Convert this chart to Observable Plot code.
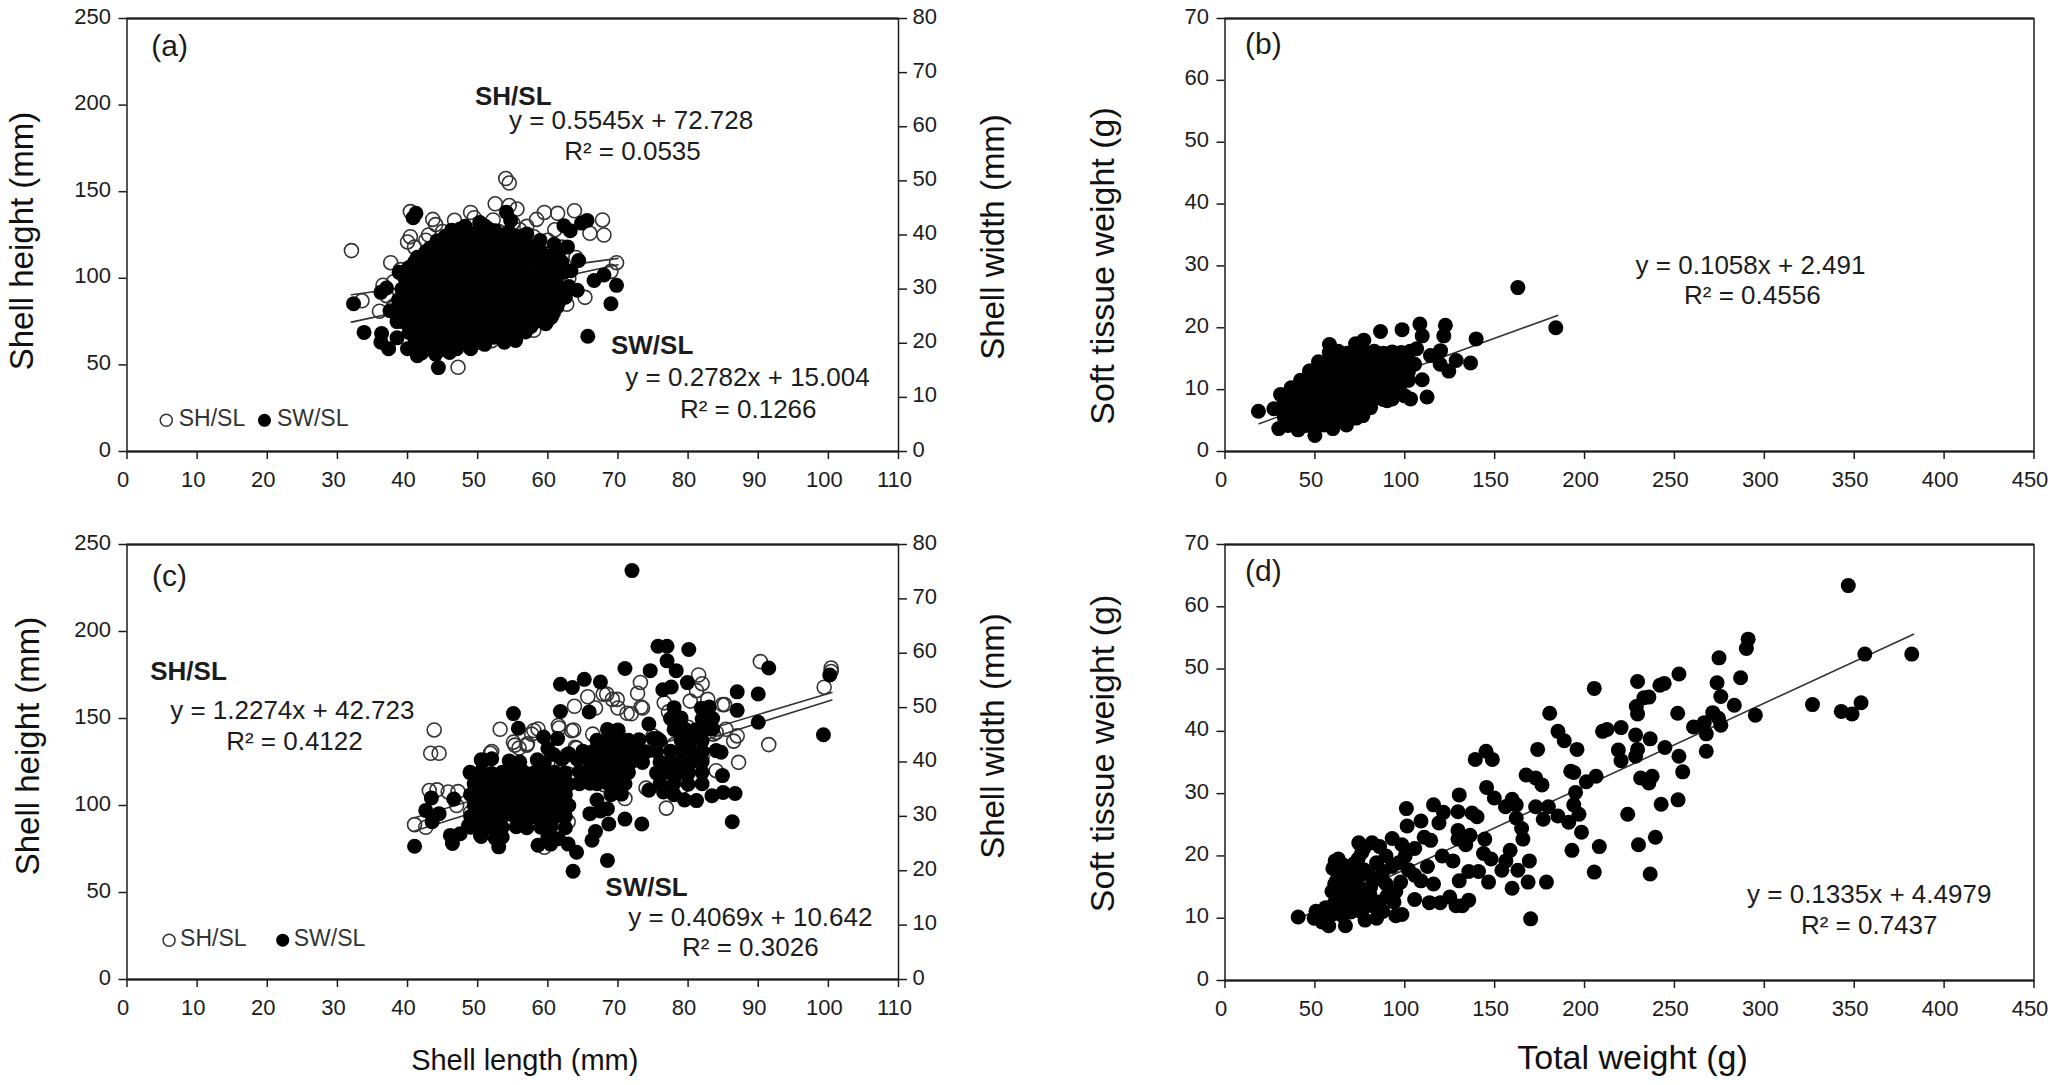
<!DOCTYPE html>
<html><head><meta charset="utf-8">
<script src="https://cdn.jsdelivr.net/npm/d3@7"></script>
<script src="https://cdn.jsdelivr.net/npm/@observablehq/plot@0.6"></script>
<style>
html,body{margin:0;padding:0;background:#fff}
#root{position:relative;width:2053px;height:1085px;overflow:hidden}
#root svg{position:absolute;background:transparent;overflow:visible}
</style></head><body><div id="root"></div>
<script>
// --- Axis ticks
const lengthTicks=[0,10,20,30,40,50,60,70,80,90,100,110];
const heightTicks=[0,50,100,150,200,250];
const widthTicks=[0,10,20,30,40,50,60,70,80];
const weightTicks=[0,50,100,150,200,250,300,350,400,450];
const tissueTicks=[0,10,20,30,40,50,60,70];

// --- Panel (a): shell length vs height (open) / width (filled)
const aSH=[[32,116],[54,157.6],[54.5,155],[52.5,143],[54.5,142],[55.6,140],[40.4,138.5],[43.6,134],[44,131],[46.7,133.5],[49,138],[49.5,135],[52.2,133.7],[59.5,138],[61.4,137.5],[63.8,139],[67.8,133.7],[58.4,134],[66,126],[68,125],[69.8,109],[69,104],[47.2,48.6],[37.6,109],[36.5,96],[33.5,87],[36,81],[40,121],[40.4,124],[42.6,122],[45.5,121],[65.3,89],[62.7,85],[50,63],
[44,118],[48,128],[51,130],[53,127],[56,128],[58,124],[60,122],[62,118],[64,112],[42,112],[39,105],[38,98],[37,90],[38,84],[40,78],[42,72],[45,68],[48,66],[52,64],[55,66],[58,70],[60,76],[62,90],[63,100],[50,110],[46,100],[54,95],[48,85],[56,108],[44,90],[41,118],[43,125],[47,124],[45,127],[50,126],[55,132],[57,130],[61,128]];
const aSW=[[32.3,27.3],[33.8,22],[36.2,20.2],[37.3,19],[36.3,21.8],[41.2,44],[40.8,43.2],[44.4,15.5],[65.7,21.3],[69,27.3],[69.8,30.7],[66.6,31.6],[68,32.6],[65.6,42.7],[64.8,42.2],[62.3,41.7],[63.2,40.8],[60.9,38.3],[62.8,37.8],[61.5,36.5],[62,35],[64.4,35.3],[63.3,33.4],[62.3,33.1],[64.2,29.8],[63,30.5],[62.5,28.5],[61.3,26.7],[60.5,24.8],[59.7,23.6],[57.1,23],[55.4,20.5],[53.8,20.2],[51.4,21.1],[46.6,19.3],[45.6,18.7],[41.4,17.7],[38.5,21],[40,19],[38.5,24],[37.5,26],[36.2,29.4],[37,30.2],[38.8,33.1],[41.4,35.9],[44.2,38.9],[47.5,41.1],[50.9,41.7],[54.1,44.2],[54.7,42.7],[57,40.2],[58.9,39],
[48.2,41.6],[50.3,42.3],[51.6,41.1],
[45.4,39.8],[47.3,40.2],[49.2,39.6],[51.2,40],[53.3,39.5],[55.5,39.8],
[43.2,37.6],[45.1,38],[47.2,37.7],[49.3,38.2],[51.4,37.8],[53.4,38],[55.6,37.5],[57.8,37.9],
[41.8,35.9],[43.6,36.2],[45.6,35.7],[47.6,36.1],[49.7,35.8],[51.8,36.3],[53.9,35.7],[56,36],[58,35.8],[59.8,36.1],
[40.2,34],[42.3,33.8],[44.3,34.3],[46.4,33.9],[48.4,34.2],[50.5,33.7],[52.6,34.1],[54.7,33.9],[56.8,34.2],[58.9,33.8],[60.2,34],
[39.6,32.1],[41.6,31.8],[43.7,32.2],[45.8,31.9],[47.9,32.3],[50,31.8],[52.1,32.2],[54.2,31.9],[56.3,32.1],[58.4,31.7],[60.4,32.2],[61.2,31.6],
[39.2,30],[41.1,29.7],[43.1,30.2],[45.2,29.9],[47.3,30.3],[49.4,29.8],[51.5,30.1],[53.6,29.7],[55.7,30.2],[57.8,29.9],[59.9,30.1],[61.8,29.8],
[38.7,28],[40.7,27.8],[42.7,28.2],[44.8,27.9],[46.9,28.3],[49,27.8],[51.1,28.1],[53.2,27.7],[55.3,28.2],[57.4,27.9],[59.5,28.1],[61.6,27.7],
[38.8,26],[40.8,25.8],[42.9,26.2],[45,25.9],[47.1,26.2],[49.2,25.7],[51.3,26.1],[53.4,25.8],[55.5,26.2],[57.6,25.9],[59.7,26.1],[60.8,25.6],
[39.3,24],[41.3,23.8],[43.4,24.2],[45.5,23.9],[47.6,24.2],[49.7,23.7],[51.8,24.1],[53.9,23.8],[56,24.2],[58.1,23.9],[59.6,24.2],
[40.2,22],[42.2,21.8],[44.2,22.2],[46.3,21.9],[48.4,22.2],[50.5,21.7],[52.6,22.1],[54.7,21.8],[56.8,22.1],
[41,20],[43,19.8],[45,20.2],[47,19.9],[49,20.2],[51,19.8],[42,18.2],[44,18],[46,18.3],[47,19],
[46.3,40.9],[48.4,40.7],[50.2,41],[52.5,40.8],[54.4,40.6],
[44.2,38.9],[46.2,38.8],[48.3,39],[50.3,38.8],[52.4,38.9],[54.5,38.7],[56.6,38.8],
[42.6,36.9],[44.6,37],[46.5,36.8],[48.6,37],[50.6,36.9],[52.7,37],[54.8,36.8],[56.9,36.9],[59,37],
[41,35],[43,35.1],[45,34.9],[47,35.1],[49,34.9],[51,35],[53,35.1],[55,34.9],[57,35],[59,34.9],[60.6,35.1],
[40.6,33],[42.8,32.9],[44.9,33.1],[47,33],[49,33.1],[51.1,32.9],[53.2,33],[55.3,33.1],[57.4,32.9],[59.5,33],[61,33.1],
[40.2,31],[42.3,30.9],[44.4,31.1],[46.5,30.9],[48.6,31],[50.7,31.1],[52.8,30.9],[54.9,31],[57,31.1],[59.1,30.9],[61.3,30.9],
[39.8,29],[41.9,28.9],[44,29.1],[46.1,28.9],[48.2,29],[50.3,29.1],[52.4,28.9],[54.5,29],[56.6,29.1],[58.7,28.9],[60.8,29],
[39.5,27],[41.6,26.9],[43.7,27.1],[45.8,26.9],[47.9,27],[50,27.1],[52.1,26.9],[54.2,27],[56.3,27.1],[58.4,26.9],[60.5,27],
[39.9,25],[42,24.9],[44.1,25.1],[46.2,24.9],[48.3,25],[50.4,25.1],[52.5,24.9],[54.6,25],[56.7,25.1],[58.8,24.9],
[41,23],[43.1,22.9],[45.2,23.1],[47.3,22.9],[49.4,23],[51.5,23.1],[53.6,22.9],[55.7,23],[57.6,23.1],
[41.8,21],[43.9,20.9],[46,21.1],[48.1,20.9],[50.2,21],[52.3,21.1],[54.4,20.9],[43,19],[45,19],[49,19]];
const aSHLine=[[32,90.5],[70,111.5]];
const aSWLine=[[32,23.9],[70,34.5]];

// --- Panel (b): total weight vs soft tissue weight
const bST=[[18.6,6.5],[162.9,26.5],[184,20],[139.7,18.2],[136.6,14.3],[128.6,14.7],[124.5,13],[122.6,20.4],[121.7,18.7],[119.9,16.3],[114.3,15.5],[119.7,14.1],[112.4,8.8],[109.7,11.6],[108.4,20.6],[109.7,18.7],[106.6,16.6],[105.5,14.1],[98.5,19.7],[86.5,19.4],[77.2,18],[72.6,17.4],[58.1,17.3],[47.2,13],[36.8,10.3],[30.9,9.2],[27.2,6.9],[29.9,3.7],[40.7,3.5],[50,2.6],[60,3.7],[67.6,4.3],[76.7,5.8],[103.2,8.5],[90.2,8.2],[100,9],
[58,16],[63,16.2],[68,15.9],[73,16.1],[78,16],[83,16.2],[88,15.9],[93,16.1],[98,16],[103,16.2],
[52,14.5],[57,14.6],[62,14.4],[67,14.5],[72,14.6],[77,14.4],[82,14.5],[87,14.6],[92,14.4],[97,14.5],[102,14.6],
[47,13],[52,13.1],[57,12.9],[62,13],[67,13.1],[72,12.9],[77,13],[82,13.1],[87,12.9],[92,13],[97,13.1],[102,12.9],
[42,11.5],[47,11.6],[52,11.4],[57,11.5],[62,11.6],[67,11.4],[72,11.5],[77,11.6],[82,11.4],[87,11.5],[92,11.6],[97,11.4],[102,11.5],
[37,10],[42,10.1],[47,9.9],[52,10],[57,10.1],[62,9.9],[67,10],[72,10.1],[77,9.9],[82,10],[87,10.1],[92,9.9],[97,10],
[33,8.5],[38,8.6],[43,8.4],[48,8.5],[53,8.6],[58,8.4],[63,8.5],[68,8.6],[73,8.4],[78,8.5],[83,8.6],[88,8.4],[93,8.5],
[31,7],[36,7.1],[41,6.9],[46,7],[51,7.1],[56,6.9],[61,7],[66,7.1],[71,6.9],[76,7],[81,7.1],
[33,5.5],[38,5.6],[43,5.4],[48,5.5],[53,5.6],[58,5.4],[63,5.5],[68,5.6],[73,5.4],
[35,4.2],[45,4.2],[50,4.1],[55,4.3],[60,4.2]];
const bLine=[[19,4.5],[185,22]];

// --- Panel (c): shell length vs height (open) / width (filled)
const cSH=[[41,89],[43.8,143.4],[43.3,130],[44.5,130],[43.1,108.6],[44.2,109],[45.8,107.8],[47.2,108],[42.6,87.5],[53.2,143.8],[58.6,144],[57.7,141],[61.6,144.5],[63.7,143.4],[55.3,134.7],[55.9,133],[57,134.7],[51.8,130],[64.1,133],[62.7,129],[63.8,157],[65.7,162.5],[66.8,156],[68.4,164],[69.9,161],[70,156],[71.9,152.7],[72.8,164.5],[73.2,170.7],[73.5,156],[76.6,159],[77.2,153.8],[80.3,160],[81.5,175],[82,170],[81.2,166],[82.8,161],[84.9,158],[85.4,143.8],[83.6,141],[87,140],[86.5,137],[91.5,135],[90.3,182.7],[87.2,124.8],[76.9,98.5],[99.4,168],[100.4,179],[100.4,177],[71,104],[59.5,76],[60,85.5],[62.9,90.6],[52,131],[66.4,141],[79.2,111],[80,118.6],
[55.1,136.4],[57.1,135.5],[58,143.1],[63.4,143],[61.5,146],[63.9,133.5],[67.9,164],[69.2,161],[71.3,153],[73.3,156.6],[85.2,158],[84,142],
[50,118],[52,105],[55,120],[58,112],[60,125],[63,118],[66,128],[69,135],[70,142],[72,130],[75,140],[78,135],[80,145],[82,128],[84,120],[78,120],[74,110],[68,112],[60,98],[56,95],[53,88],[49,96],[47,100]];
const cSW=[[41,24.5],[72,75.2],[63.6,19.9],[68.5,21.9],[64.1,23.4],[62.9,24.9],[60.4,24.9],[58.6,24.7],[53,24.4],[50.4,26.5],[46.4,25],[46.1,26.5],[47.5,26.8],[43.4,33.4],[42.6,31.1],[44.5,30.5],[43.5,29],[46.6,33.2],[48.9,38.1],[50.9,40.3],[55.1,48.9],[55.8,46.2],[61.8,49.3],[65.9,49.2],[59.4,44.6],[61.4,44.3],[61.8,54.3],[63.5,53.7],[65.2,55.2],[67.5,54.7],[71,57.2],[74.6,56.8],[75.7,61.3],[77,61.3],[80.1,60.7],[77,58.6],[78.3,56.8],[76.4,53.3],[77.6,53.8],[79.9,54.6],[81.9,49.9],[87,49.5],[87,52.9],[90,52.5],[91.5,57.3],[90,47.3],[99.3,45],[100.2,56],[84.7,41.8],[84.9,37.5],[86.7,34.2],[85,34.4],[83.4,33.8],[86.3,29],[81.2,32.9],[79.5,33],[74.4,34.8],[73.4,28.6],[71,29.5],[68.7,28.6],[68.5,31.4],[66,30.5],[66.3,25.6],[66.8,27.2],[48.7,28.3],
[50.5,40.4],[52,40.6],[54.5,40.2],[56,40],[58.5,40.4],[59.5,39.8],[60,42.5],[60.8,41.4],[62,40.5],[63,41.5],[64.2,40.5],[65,42],
[49,38],[50.5,38.2],[52,37.9],[53.5,38.1],[55,37.8],[56.5,38.2],[58,38],[59.5,37.9],[61,38.1],[62.5,38],[64.5,38.2],
[49.5,36],[51,36.1],[52.5,35.9],[54,36.2],[55.5,36],[57,35.8],[58.5,36.1],[60,36],[61.5,36.2],[63,35.9],[64.5,36],[66,36.1],
[49,34],[50.5,34.1],[52,33.9],[53.5,34],[55,34.2],[56.5,33.9],[58,34],[59.5,34.1],[61,33.9],[62.5,34],
[49.5,32],[51,32.2],[52.5,31.9],[54,32],[55.5,32.1],[57,31.9],[58.5,32],[60,32.2],[61.5,31.9],[63,32],
[49,30],[50.5,30.1],[52,29.9],[53.5,30],[55,30.2],[56.5,29.9],[58,30],[59.5,30.1],[61,29.9],[62.5,30],
[49,28],[50.5,28.2],[52,27.9],[53.5,28],[55.5,28.1],[57,27.9],[59,28],[60.5,28.2],[62.5,27.9],
[50.5,26.3],[52.5,26],[53.5,26.2],[60,26.1],[61.5,25.9],
[68.5,46],[70,45.9],
[67,44],[68.5,44.2],[70,43.9],[71.5,44],[73,44.1],[75,44.3],[76,43.9],[74.4,47],[75.6,44.3],
[66.5,42],[68,42.1],[69.5,41.9],[71,42],[72.5,42.1],[74,41.9],[75.5,42],
[66,40],[67.5,40.1],[69,39.9],[70.5,40],[72,40.1],[73.5,39.9],
[65.5,38],[67,38.1],[68.5,37.9],[70,38],[71.5,38.1],
[67,36],[68.5,36.1],[70,35.9],[71,36],[69,34],[70.5,34.1],[67,33],[67.5,31],
[78,50],[83,50.1],[77.5,48],[79,48.1],[82,47.9],[83.5,48],
[78,46],[79.5,46.1],[81,45.9],[82.5,46],[83.5,46.1],[79,44],[80.5,44.1],[82,43.9],
[77.5,42],[79,42.1],[80.5,41.9],[82,42],[84,42.1],[76,40],[77.5,40.1],[79,39.9],[80.5,40],[82,40.1],
[75.5,38],[77,38.1],[78.5,37.9],[80,38],[82,38.1],[76,36],[78,36.1],[80,35.9],[82,36],[76.5,34.5],[78,34]];
const cSHLine=[[41,93],[100.5,165]];
const cSWLine=[[41,27.3],[100.5,51.4]];

// --- Panel (d): total weight vs soft tissue weight
const dST=[[40.7,10.2],[50.6,11.1],[49.6,10],[54,9.4],[57.7,8.8],[67,8.8],[61.3,19.2],[61,15.5],[346.7,63.4],[291,54.8],[290,53.3],[355.9,52.4],[382,52.4],[274.8,51.8],[286.8,48.6],[252.5,49.2],[273.7,47.8],[244.3,47.7],[241.9,47.4],[229.5,48],[205.4,46.9],[235.8,45.5],[233,45.4],[275.8,45.6],[283.3,44.2],[326.8,44.3],[353.8,44.6],[342.8,43.2],[348.8,42.8],[295,42.6],[251.8,42.9],[271.3,43],[274.5,42.1],[275.8,41],[228.8,44],[229.5,42.8],[180.6,42.9],[260.6,40.7],[266.6,41.4],[267.7,39.6],[220.3,40.6],[210,40],[212.5,40.3],[185.2,40],[188.7,38.5],[228.4,39.4],[236.5,38.8],[244.7,37.4],[252.5,36],[218.8,37],[229.5,37.1],[228.4,36],[220.3,35.3],[195.8,37.1],[173.9,37.1],[145.2,36.8],[139.2,35.5],[148.7,35.5],[267.7,36.8],[254.6,33.5],[167.5,33],[172.8,32.5],[176.3,31.4],[192.3,33.6],[194,33.4],[206.4,32.8],[201,31.9],[231.2,32.5],[237.6,32.8],[235.8,31.7],[195,30.2],[145.5,31],[130.3,29.8],[149.8,29.3],[252,29],[242.6,28.3],[159.7,29.1],[156,27.9],[162,28.2],[172.8,27.9],[179.9,27.9],[194,28.2],[100.9,27.6],[116,28.2],[129.6,27.1],[137.4,26.9],[177,25.9],[185.2,26.4],[196.9,26.7],[224,26.7],[140.2,26.3],[121.5,27],[162,26.1],[109,25.6],[101.3,24.8],[119,25.3],[165,24.4],[191.2,25.4],[129.6,24.1],[198.3,23.8],[165.7,22.7],[239.4,23],[144.5,22.7],[136.3,23.3],[93,22.8],[74.4,22.1],[81.8,22.1],[114.4,22.5],[129.6,22.7],[133.9,21.8],[208.2,21.5],[193,20.9],[230,21.8],[158.6,20.9],[143.8,20.4],[148,19.5],[120.8,20],[98.4,21.8],[86,21.5],[77.2,21.2],[169.3,19.2],[156.2,19.2],[154,17.7],[162.9,17.7],[205.4,17.4],[236.5,17.1],[126.8,19.2],[135.6,17.5],[141,17.5],[178.8,15.8],[168.6,15.8],[146.6,15.8],[159.7,14.8],[130.3,16],[116,15.5],[109,16],[105.5,16.9],[112.6,18.3],[105.5,21.2],[110.8,23],[105.5,13],[113.7,12.5],[119.7,12.5],[125,13.4],[128.5,12],[132,12],[135.6,12.9],[170,9.9],
[98.4,10.6],[95,10.4],[87.8,11.1],[84.3,10],[77.9,9.7],[73.7,12],[70,11],[59.5,10.6],[63,11.7],[64.8,13.7],[59.5,14.3],[71.9,13.7],[80.7,13.7],[86,12.6],[94,12.6],[95,14.3],[89.6,15.5],[97.7,15.8],[84.3,16.3],[73.7,15.5],[66.6,16.9],[77.2,17.8],[70,18.3],[63,17.5],[84.3,18.9],[93,18.3],[89.6,20],[96.7,18.9],[68.3,16],[65.5,15.2],[75.4,16.9],[80.7,16.9],[102,17.8],[100.2,20],[54.2,10.8],[56,11.7],[62,13.7],
[66,12.5],[68,14.5],[72,16.5],[75,14.5],[78,12.5],[62,16],[66,18.5],[72,18.8],[61,12.5],[65,10.5],[69,13],[76,11],[82,12],[90,13.5],[88,17.5],[81,15],[60,18],[63,19.5],[74,19.5],[76,20.5]];
const dLine=[[40,9.8],[383,55.6]];

const ink="#1c1c1c", font="'Liberation Sans', Arial, sans-serif";
const root=document.getElementById("root");
const tickFont=22, noteFont=26, dotR=7.5;

function plotLayer(o){
  const svg=Plot.plot({
    width:o.width,height:o.height,
    marginLeft:o.left,marginRight:o.width-o.right,marginTop:o.top,marginBottom:o.height-o.bottom,
    style:{fontFamily:font,fontSize:tickFont+"px",color:ink,background:"transparent"},
    x:{domain:o.xDomain,axis:null},y:{domain:o.yDomain,axis:null},
    marks:o.marks
  });
  root.appendChild(svg);
}
const xy={x:d=>d[0],y:d=>d[1]};
const trend=pts=>Plot.line(pts,{...xy,stroke:"#333",strokeWidth:1.6});
const note=(x,y,t,o={})=>Plot.text([t],{x:()=>x,y:()=>y,text:d=>d,fontSize:noteFont,fill:ink,textAnchor:"middle",dx:-3,dy:-1.5,...o});
const axisX=ticks=>[
  Plot.axisX({ticks,tickSize:8,text:null,label:null,stroke:ink,strokeWidth:1.5}),
  Plot.axisX({ticks,tickSize:0,tickPadding:20,dx:-4,fontSize:tickFont,tickFormat:d=>d,label:null})
];
const axisY=ticks=>[
  Plot.axisY({ticks,tickSize:8,text:null,label:null,stroke:ink,strokeWidth:1.5}),
  Plot.axisY({ticks,tickSize:0,tickPadding:16,dy:-2,fontSize:tickFont,tickFormat:d=>d,label:null})
];
const axisR=ticks=>[
  Plot.axisY({anchor:"right",ticks,tickSize:8,text:null,label:null,stroke:ink,strokeWidth:1.5}),
  Plot.axisY({anchor:"right",ticks,tickSize:0,tickPadding:14,dy:-2,fontSize:tickFont,tickFormat:d=>d,label:null})
];
const sideLabel=(t,anchor,dx,dy,size)=>Plot.text([t],{text:d=>d,frameAnchor:anchor,rotate:-90,dx,dy,fontSize:size,fill:"#111",textAnchor:"middle",lineAnchor:"middle"});
const bottomLabel=(t,dx,dy,size)=>Plot.text([t],{text:d=>d,frameAnchor:"bottom",dx,dy,fontSize:size,fill:"#111",textAnchor:"middle",lineAnchor:"middle"});
const frame=Plot.frame({stroke:ink,strokeWidth:1.5});
const edge=domain=>Plot.ruleY(domain,{stroke:"#555",strokeWidth:2.5});

function dualPanel(g,sh,sw,shLine,swLine,notes,xlabel){
  const base={width:1030,height:g.bottom+100,left:g.l,right:g.r,top:g.t,bottom:g.bottom,xDomain:[0,110]};
  plotLayer({...base,yDomain:[0,250],marks:[
    trend(shLine),
    Plot.dot(sh,{...xy,r:7,stroke:"#333",strokeWidth:1.6,fill:"none"}),
    edge([0,250]),frame,
    ...axisX(lengthTicks),...axisY(heightTicks),
    sideLabel("Shell height (mm)","left",g.ldx,g.ldy,g.lsize),
    ...(xlabel?[bottomLabel(xlabel,12,81,29)]:[]),
    ...notes
  ]});
  plotLayer({...base,yDomain:[0,80],marks:[
    trend(swLine),
    Plot.dot(sw,{...xy,r:dotR,fill:"#000"}),
    ...axisR(widthTicks),
    sideLabel("Shell width (mm)","right",95,g.rdy,g.rsize)
  ]});
}
function singlePanel(g,pts,line,notes,xlabel){
  plotLayer({width:2053,height:g.bottom+100,left:g.l,right:g.r,top:g.t,bottom:g.bottom,xDomain:[0,450],yDomain:[0,70],marks:[
    edge([0,70]),frame,
    trend(line),
    Plot.dot(pts,{...xy,r:dotR,fill:"#000"}),
    ...axisX(weightTicks),...axisY(tissueTicks),
    sideLabel("Soft tissue weight (g)","left",-122,g.ldy,g.lsize),
    ...(xlabel?[bottomLabel(xlabel,3,78,34)]:[]),
    ...notes
  ]});
}
const legendNotes=(y,a,b,c,d)=>[
  Plot.dot([[a,y]],{...xy,r:6,stroke:"#333",strokeWidth:1.5,fill:"none"}),
  note(b,y,"SH/SL",{textAnchor:"start",fontSize:23,fill:"#333"}),
  Plot.dot([[c,y]],{...xy,r:6.5,fill:"#000"}),
  note(d,y,"SW/SL",{textAnchor:"start",fontSize:23,fill:"#333"})
];

dualPanel({l:126.5,r:898,t:18,bottom:451,ldx:-105,ldy:6,lsize:33,rdy:2,rsize:33},aSH,aSW,aSHLine,aSWLine,[
  note(6.5,233,"(a)",{fontSize:30}),
  note(55.5,204,"SH/SL",{fontWeight:"bold"}),
  note(72.3,190,"y = 0.5545x + 72.728"),
  note(72.5,172,"R² = 0.0535"),
  note(75.3,60,"SW/SL",{fontWeight:"bold"}),
  note(88.9,41.5,"y = 0.2782x + 15.004"),
  note(89,23.5,"R² = 0.1266"),
  ...legendNotes(18,5.6,7.8,19.6,21.8)
]);

dualPanel({l:126.5,r:898,t:544,bottom:979,ldx:-99,ldy:-16,lsize:33,rdy:-26,rsize:33},cSH,cSW,cSHLine,cSWLine,[
  note(6.5,231,"(c)",{fontSize:30}),
  note(9.2,176,"SH/SL",{fontWeight:"bold"}),
  note(24,153.6,"y = 1.2274x + 42.723"),
  note(24.3,136,"R² = 0.4122"),
  note(74.5,52,"SW/SL",{fontWeight:"bold"}),
  note(89.3,34.6,"y = 0.4069x + 10.642"),
  note(89.3,17.3,"R² = 0.3026"),
  ...legendNotes(22.6,6,8,22.2,24.2)
],"Shell length (mm)");

singlePanel({l:1224.5,r:2033.5,t:18,bottom:451,ldy:31,lsize:34},bST,bLine,[
  note(23,65.6,"(b)",{fontSize:30}),
  note(294,29.8,"y = 0.1058x + 2.491"),
  note(295,25,"R² = 0.4556")
]);
singlePanel({l:1224.5,r:2033.5,t:544,bottom:980,ldy:-9,lsize:34},dST,dLine,[
  note(23,65.4,"(d)",{fontSize:30}),
  note(360,13.5,"y = 0.1335x + 4.4979"),
  note(360,8.6,"R² = 0.7437")
],"Total weight (g)");
</script></body></html>
